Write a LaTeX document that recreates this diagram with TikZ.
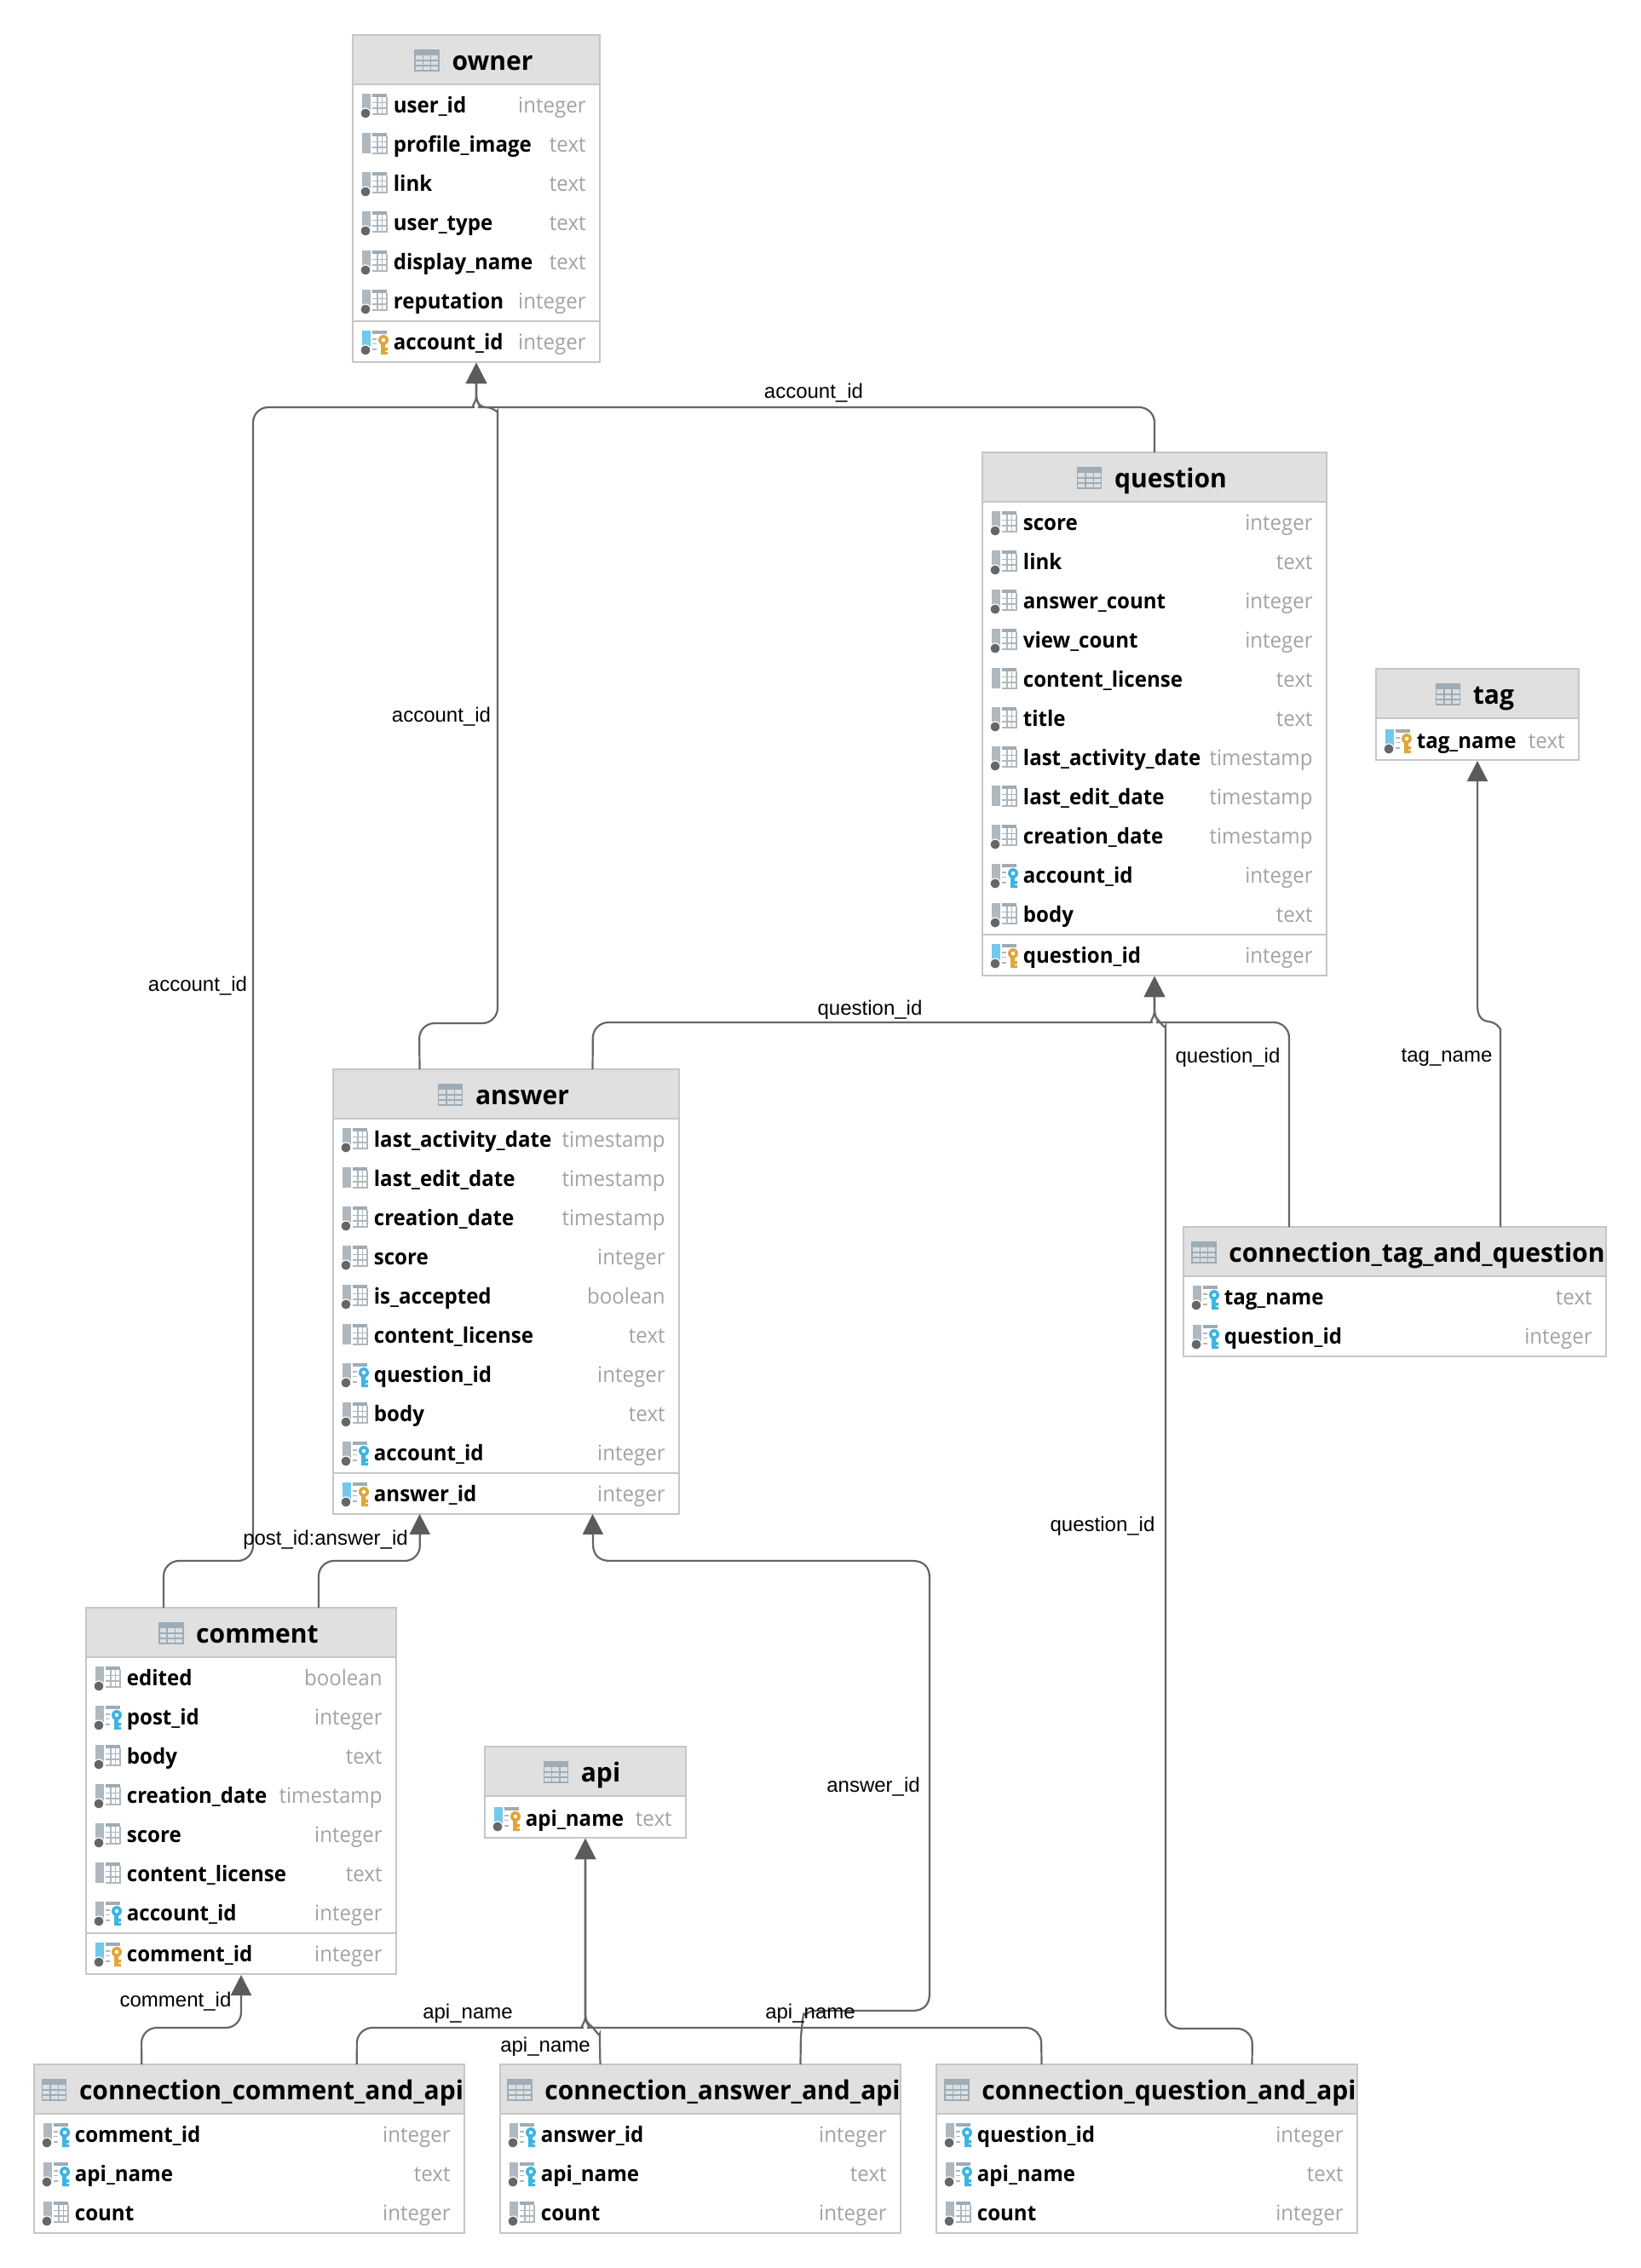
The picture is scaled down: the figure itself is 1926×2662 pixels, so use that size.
\documentclass[tikz,border=0pt]{standalone}
\usepackage{fontspec}
\usetikzlibrary{arrows.meta,calc}
\setmainfont{Liberation Sans}
\newfontfamily\schemafont{Open Sans}[FakeStretch=0.955]
\newfontfamily\titlefont{Open Sans}[FakeStretch=0.975]
\definecolor{headfill}{HTML}{E0E0E0}
\definecolor{edgegray}{HTML}{C6C6C6}
\definecolor{typegray}{HTML}{A3A3A3}
\definecolor{linkgray}{HTML}{666666}
\definecolor{tipgray}{HTML}{5B5B5B}
\definecolor{iconbar}{HTML}{AFB8BE}
\definecolor{icondark}{HTML}{9FABB5}
\definecolor{iconlight}{HTML}{ADB7BF}
\definecolor{pkblue}{HTML}{73C9EA}
\definecolor{fkblue}{HTML}{3DB4E2}
\definecolor{keygold}{HTML}{DFA63C}
\definecolor{dotgray}{HTML}{666666}
\tikzset{
  x=0.5pt,y=-0.5pt,
  tablebox/.style={draw=edgegray,line width=1pt,fill=white,anchor=north west,inner sep=0pt,outer sep=0pt},
  titletext/.style={anchor=base,inner sep=0pt,font=\titlefont\bfseries\fontsize{15.4}{18}\selectfont,text=black},
  coltext/.style={anchor=base west,inner sep=0pt,font=\schemafont\bfseries\fontsize{12.6}{15}\selectfont,text=black},
  typetext/.style={anchor=base east,inner sep=0pt,font=\schemafont\fontsize{12.6}{15}\selectfont,text=typegray},
  rellabel/.style={inner sep=0pt,font=\fontsize{12}{14}\selectfont,text=black},
  fklink/.style={draw=linkgray,line width=1.1pt,rounded corners=9pt,
    -{Triangle[width=12pt,length=12pt,color=tipgray]}},
}
% little table glyph in a header, placed relative to the title's base point
\newcommand{\headglyph}[1]{%
  \begin{scope}[shift={($(#1.base west)+(-43,-23)$)}]
    \fill[iconlight!45!white] (0,0) rectangle (28,24);
    \fill[icondark] (0,0) rectangle (28,6);
    \draw[icondark,line width=0.7pt] (0,0) rectangle (28,24) (0,12) -- (28,12) (0,18) -- (28,18)
      (9.3,6) -- (9.3,24) (18.6,6) -- (18.6,24);
  \end{scope}}
% bar and top strip shared by every column glyph
\newcommand{\barglyph}[1]{%
  \fill[#1] (11,-14) rectangle (21,10);
  \fill[icondark] (23,-14) rectangle (40,-10);}
\newcommand{\nullmark}{\fill[dotgray,draw=white,line width=0.6pt] (15,9) circle (3pt);}
% plain column glyph; #3 draws the extra mark or nothing
\newcommand{\plainglyph}[3]{%
  \begin{scope}[shift={(#1,#2)}]
    \barglyph{iconbar}
    \draw[iconlight,line width=0.9pt] (40,-10) -- (40,10) -- (29,10) -- (29,-10)
      (29,-3.5) -- (40,-3.5) (29,3) -- (40,3)
      (34.5,-10) -- (34.5,10) (23,-3.5) -- (28,-3.5) (23,3) -- (28,3) (23,10) -- (28,10);
    #3
  \end{scope}}
% column glyph with a key: #3 bar colour, #4 key colour
\newcommand{\keyglyph}[4]{%
  \begin{scope}[shift={(#1,#2)}]
    \barglyph{#3}
    \nullmark
    \draw[iconlight,line width=0.8pt] (23,-4) -- (28,-4) (23,1.5) -- (28,1.5) (23,8) -- (28,8);
    \fill[white] (29,-10) rectangle (42,15);
    \fill[#4] (33,-3) rectangle (38,14) (38,6) rectangle (41,9.5) (38,11) rectangle (41,14);
    \fill[#4] (36,-3) circle (3pt);
    \fill[white] (36,-3) circle (1.1pt);
  \end{scope}}
% #1 name, #2 left, #3 right, #4 top, #5 title offset, #6 title, #7 box height, #8 rows
\newcommand{\dbtable}[8]{%
  \pgfmathsetmacro\tblw{#3-#2}
  \node[tablebox,minimum width=\tblw*0.5pt,minimum height=#7*0.5pt] (#1) at (#2,#4) {};
  \fill[headfill] (#2+1,#4+1) rectangle (#3-1,#4+57);
  \draw[edgegray,line width=1pt] (#2,#4+58) -- (#3,#4+58);
  \node[titletext] (#1-title) at ({(#2+#3)/2+#5},#4+41) {#6};
  \headglyph{#1-title}
  \foreach \kind/\colname/\coltype [count=\i] in {#8} {
    \pgfmathsetmacro\cy{#4+83+46*(\i-1)}
    \node[coltext] (#1-col-\i) at (#2+47.5,\cy+8) {\colname};
    \node[typetext] (#1-type-\i) at (#3-16,\cy+8) {\coltype};
    \ifnum\strcmp{\kind}{f}=0 \keyglyph{#2}{\cy}{iconbar}{fkblue}\else
      \ifnum\strcmp{\kind}{n}=0 \plainglyph{#2}{\cy}{}\else\plainglyph{#2}{\cy}{\nullmark}\fi\fi
  }}
% primary key row under #5 ordinary rows
\newcommand{\pkrow}[7]{%
  \pgfmathsetmacro\sy{#4+83+46*(#5-1)+23}
  \ifnum#5>0 \draw[edgegray,line width=1pt] (#2,\sy) -- (#3,\sy);\fi
  \node[coltext] (#1-pk) at (#2+47.5,\sy+33) {#6};
  \node[typetext] (#1-pktype) at (#3-16,\sy+33) {#7};
  \keyglyph{#2}{\sy+25}{pkblue}{keygold}}
\newcommand{\tportn}[2]{($(#1.north west)!#2!(#1.north east)$)}
\newcommand{\tports}[2]{($(#1.south west)!#2!(#1.south east)$)}
% last bend into a shared stem: #1 side (+1/-1), #2 stem x, #3 run y
\newcommand{\mergein}[3]{%
  -- ({#2+#1*20},#3) [sharp corners] .. controls ({#2+#1*8},#3) and (#2,#3-4) .. (#2,#3-14)}
\begin{document}
\begin{tikzpicture}
\useasboundingbox (0,0) rectangle (1926,2662);
\fill[white] (0,0) rectangle (1926,2662);

% tables
\dbtable{owner}{414}{704}{41}{19}{owner}{384}{c/user\_id/integer,n/profile\_image/text,c/link/text,c/user\_type/text,c/display\_name/text,c/reputation/integer}
\pkrow{owner}{414}{704}{41}{6}{account\_id}{integer}

\dbtable{question}{1153}{1557}{531}{19}{question}{614}{c/score/integer,c/link/text,c/answer\_count/integer,c/view\_count/integer,n/content\_license/text,c/title/text,c/last\_activity\_date/timestamp,n/last\_edit\_date/timestamp,c/creation\_date/timestamp,f/account\_id/integer,c/body/text}
\pkrow{question}{1153}{1557}{531}{11}{question\_id}{integer}

\dbtable{tag}{1615}{1853}{785}{19}{tag}{107}{}
\pkrow{tag}{1615}{1853}{785}{0}{tag\_name}{text}

\dbtable{answer}{391}{797}{1255}{19}{answer}{522}{c/last\_activity\_date/timestamp,n/last\_edit\_date/timestamp,c/creation\_date/timestamp,c/score/integer,c/is\_accepted/boolean,n/content\_license/text,f/question\_id/integer,c/body/text,f/account\_id/integer}
\pkrow{answer}{391}{797}{1255}{9}{answer\_id}{integer}

\dbtable{linktag}{1389}{1885}{1440}{26}{connection\_tag\_and\_question}{152}{f/tag\_name/text,f/question\_id/integer}

\dbtable{comment}{101}{465}{1887}{19}{comment}{430}{c/edited/boolean,f/post\_id/integer,c/body/text,c/creation\_date/timestamp,c/score/integer,n/content\_license/text,f/account\_id/integer}
\pkrow{comment}{101}{465}{1887}{7}{comment\_id}{integer}

\dbtable{api}{569}{805}{2050}{18}{api}{107}{}
\pkrow{api}{569}{805}{2050}{0}{api\_name}{text}

\dbtable{linkc}{40}{545}{2423}{26}{connection\_comment\_and\_api}{198}{f/comment\_id/integer,f/api\_name/text,c/count/integer}
\dbtable{linka}{587}{1057}{2423}{26}{connection\_answer\_and\_api}{198}{f/answer\_id/integer,f/api\_name/text,c/count/integer}
\dbtable{linkq}{1099}{1593}{2423}{26}{connection\_question\_and\_api}{198}{f/question\_id/integer,f/api\_name/text,c/count/integer}

% foreign key links
\draw[fklink] \tportn{comment}{0.25} -- (192,1832) -- (297,1832) -- (297,478) \mergein{-1}{559}{478} -- ($(owner.south)+(0,1)$);
\draw[fklink] \tportn{answer}{0.25} -- (492,1201) -- (584,1201) -- (584,500) [sharp corners]
  .. controls (584,486) and (580,478) .. (570,478) .. controls (564,478) and (559,473) .. (559,464) -- ($(owner.south)+(0,1)$);
\draw[fklink] (question.north) -- (1355,478) \mergein{1}{559}{478} -- ($(owner.south)+(0,1)$);
\draw[fklink] \tportn{answer}{0.75} -- (696,1200) \mergein{-1}{1355}{1200} -- ($(question.south)+(0,1)$);
\draw[fklink] \tportn{linktag}{0.25} -- (1513,1200) \mergein{1}{1355}{1200} -- ($(question.south)+(0,1)$);
\draw[fklink] \tportn{linkq}{0.75} -- (1470,2381) -- (1368,2381) -- (1368,1222) [sharp corners]
  .. controls (1368,1208) and (1364,1203) .. (1360,1198) .. controls (1357,1195) and (1355,1192) .. (1355,1184) -- ($(question.south)+(0,1)$);
\draw[fklink] \tportn{linktag}{0.75} -- (1761,1226) [sharp corners]
  .. controls (1761,1208) and (1757,1200) .. (1747,1199) .. controls (1739,1198) and (1734,1193) .. (1734,1180) -- ($(tag.south)+(0,1)$);
\draw[fklink] \tportn{comment}{0.75} -- (374,1832) -- (493,1832) -- \tports{answer}{0.25};
\draw[fklink] \tportn{linka}{0.75} -- (940,2380) [sharp corners]
  .. controls (942,2370) and (945,2362) .. (955,2360) -- (1071,2360)
  .. controls (1084,2360) and (1091,2353) .. (1091,2340) -- (1091,1852)
  .. controls (1091,1839) and (1084,1832) .. (1071,1832) -- (716,1832)
  .. controls (703,1832) and (696,1825) .. (696,1812) -- \tports{answer}{0.75};
\draw[fklink] \tportn{linkc}{0.25} -- (166,2380) -- (283,2380) -- ($(comment.south)+(0,1)$);
\draw[fklink] \tportn{linkc}{0.75} -- (419,2380) \mergein{-1}{687}{2380} -- ($(api.south)+(0,1)$);
\draw[fklink] \tportn{linka}{0.25} -- (704,2405) [sharp corners]
  .. controls (704,2392) and (700,2384) .. (695,2379) .. controls (690,2375) and (687,2372) .. (687,2364) -- ($(api.south)+(0,1)$);
\draw[fklink] \tportn{linkq}{0.25} -- (1222,2380) \mergein{1}{687}{2380} -- ($(api.south)+(0,1)$);

% link captions
\node[rellabel] (cap-1) at (955,461) {account\_id};
\node[rellabel] (cap-2) at (518,841) {account\_id};
\node[rellabel] (cap-3) at (232,1157) {account\_id};
\node[rellabel] (cap-4) at (1021,1185) {question\_id};
\node[rellabel] (cap-5) at (1441,1241) {question\_id};
\node[rellabel] (cap-6) at (1698,1241) {tag\_name};
\node[rellabel] (cap-7) at (1294,1791) {question\_id};
\node[rellabel] (cap-8) at (382,1807) {post\_id:answer\_id};
\node[rellabel] (cap-9) at (1025,2097) {answer\_id};
\node[rellabel] (cap-10) at (206,2349) {comment\_id};
\node[rellabel] (cap-11) at (549,2363) {api\_name};
\node[rellabel] (cap-12) at (640,2402) {api\_name};
\node[rellabel] (cap-13) at (951,2363) {api\_name};
\end{tikzpicture}
\end{document}
